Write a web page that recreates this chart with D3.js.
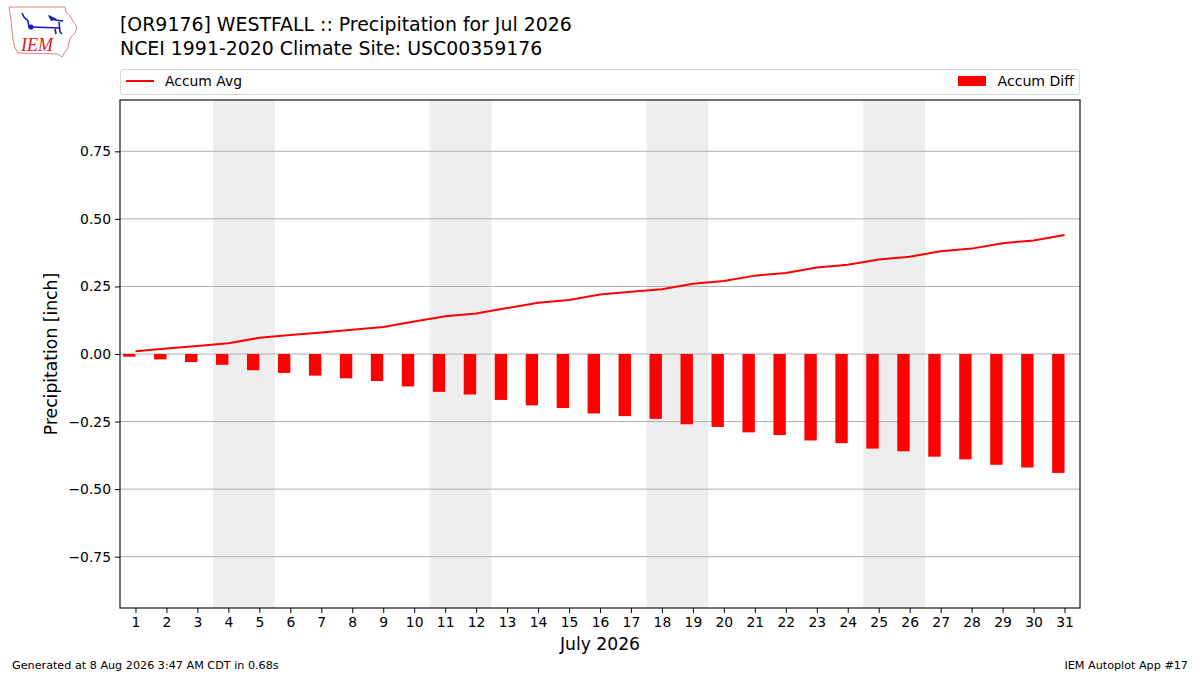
<!DOCTYPE html>
<html>
<head>
<meta charset="utf-8">
<script src="https://cdn.jsdelivr.net/npm/d3@7"></script>
<style>
  body { margin: 0; background: #fff; }
  text { font-family: "DejaVu Sans", sans-serif; fill: #000; }
</style>
</head>
<body>
<div class="chart"></div>
<script>
// days of the month
var days = d3.range(1, 32);

// accumulated climatology average (inch)
var accumAvg = [0.01, 0.02, 0.03, 0.04, 0.06, 0.07, 0.08, 0.09, 0.10, 0.12,
    0.14, 0.15, 0.17, 0.19, 0.20, 0.22, 0.23, 0.24, 0.26, 0.27,
    0.29, 0.30, 0.32, 0.33, 0.35, 0.36, 0.38, 0.39, 0.41, 0.42, 0.44];

// accumulated departure (inch)
var accumDiff = [-0.01, -0.02, -0.03, -0.04, -0.06, -0.07, -0.08, -0.09, -0.10, -0.12,
    -0.14, -0.15, -0.17, -0.19, -0.20, -0.22, -0.23, -0.24, -0.26, -0.27,
    -0.29, -0.30, -0.32, -0.33, -0.35, -0.36, -0.38, -0.39, -0.41, -0.42, -0.44];

// weekend days (Sat/Sun) in July 2026
var weekends = [[4, 5], [11, 12], [18, 19], [25, 26]];

var yTicks = [-0.75, -0.50, -0.25, 0.00, 0.25, 0.50, 0.75];

var titleLines = ["[OR9176] WESTFALL :: Precipitation for Jul 2026",
    "NCEI 1991-2020 Climate Site: USC00359176"];

function chart() {
    var W = 1200, H = 675;
    var margin = {top: 100, right: 120, bottom: 67, left: 120},
        width = W - margin.left - margin.right,
        height = H - margin.top - margin.bottom;

    var svg = d3.select(".chart").append("svg")
        .attr("width", W)
        .attr("height", H);

    // logo
    var logo = svg.append("g");
    logo.append("path")
        .attr("d", "M9,7 L65,7 L66,12 L70,16 L73,21 L77,27 L75,33 L71,37 L69,42 L68,48 L65,52 L62,57 L58,54 L18,53 L15,48 L13,40 L12,30 L11,20 Z")
        .attr("fill", "none")
        .attr("stroke", "#e08080")
        .attr("stroke-width", 1);
    logo.append("path")
        .attr("d", "M22,13 L24,17 L28,21 L29,27 M31,27 L60,28 M49,16 L55,20 L63,21 M59,22 L60,32 M60,32 L62,34 M55,29 L56,34")
        .attr("fill", "none")
        .attr("stroke", "#1a1ab8")
        .attr("stroke-width", 1.6);
    logo.append("circle").attr("cx", 31).attr("cy", 27).attr("r", 2.6).attr("fill", "#1a1ab8");
    logo.append("path").attr("d", "M48,15 L57,19 L51,21 Z").attr("fill", "#1a1ab8");
    logo.append("text")
        .attr("x", 21).attr("y", 51)
        .style("font-family", "'Liberation Serif', serif")
        .style("font-style", "italic")
        .style("font-size", "18px")
        .style("fill", "#d42020")
        .text("IEM");

    // titles
    svg.selectAll(".title")
        .data(titleLines)
        .enter().append("text")
        .attr("class", "title")
        .attr("x", 120)
        .attr("y", function (d, i) { return 30.5 + i * 24; })
        .style("font-size", "18.9px")
        .text(function (d) { return d; });

    var g = svg.append("g")
        .attr("transform", "translate(" + margin.left + "," + margin.top + ")");

    var xScale = d3.scaleLinear().domain([0.5, 31.5]).range([0, width]);
    var yScale = d3.scaleLinear().domain([-0.94, 0.94]).range([height, 0]);

    // weekend shading
    g.selectAll(".weekend")
        .data(weekends)
        .enter().append("rect")
        .attr("x", function (d) { return xScale(d[0] - 0.5); })
        .attr("width", function (d) { return xScale(d[1] + 0.5) - xScale(d[0] - 0.5); })
        .attr("y", 0)
        .attr("height", height)
        .style("fill", "#eeeeee");

    // grid
    g.selectAll(".grid")
        .data(yTicks)
        .enter().append("line")
        .attr("x1", 0).attr("x2", width)
        .attr("y1", function (d) { return yScale(d); })
        .attr("y2", function (d) { return yScale(d); })
        .style("stroke", "#b0b0b0")
        .style("stroke-width", 1);

    // bars
    g.selectAll(".bar")
        .data(days)
        .enter().append("rect")
        .attr("x", function (d) { return xScale(d - 0.4); })
        .attr("width", function (d) { return xScale(d) - xScale(d - 0.4); })
        .attr("y", function (d, i) { return yScale(Math.max(0, accumDiff[i])); })
        .attr("height", function (d, i) { return Math.abs(yScale(accumDiff[i]) - yScale(0)); })
        .style("fill", "#ff0000");

    // line
    var line = d3.line()
        .x(function (d) { return xScale(d); })
        .y(function (d, i) { return yScale(accumAvg[i]); });
    g.append("path")
        .datum(days)
        .attr("d", line)
        .style("fill", "none")
        .style("stroke", "#ff0000")
        .style("stroke-width", 2);

    // frame
    g.append("rect")
        .attr("width", width).attr("height", height)
        .style("fill", "none")
        .style("stroke", "#000")
        .style("stroke-width", 1.1);

    // axes
    var xAxis = d3.axisBottom(xScale).tickValues(days).tickSize(5).tickPadding(4)
        .tickFormat(d3.format("d"));
    var yAxis = d3.axisLeft(yScale).tickValues(yTicks).tickSize(5).tickPadding(4)
        .tickFormat(d3.format(".2f"));

    var gx = g.append("g")
        .attr("transform", "translate(0," + height + ")")
        .call(xAxis);
    var gy = g.append("g").call(yAxis);
    [gx, gy].forEach(function (a) {
        a.select(".domain").remove();
        a.selectAll("text").style("font-size", "13.9px").style("font-family", "'DejaVu Sans', sans-serif");
        a.selectAll("line").style("stroke", "#000");
    });
    gy.selectAll("text").text(function (d) { return d3.format(".2f")(d).replace("-", "\u2212"); });

    // axis labels
    g.append("text")
        .attr("x", width / 2)
        .attr("y", height + 42)
        .style("text-anchor", "middle")
        .style("font-size", "17.2px")
        .text("July 2026");
    g.append("text")
        .attr("transform", "translate(-63," + (height / 2) + ") rotate(-90)")
        .style("text-anchor", "middle")
        .style("font-size", "17.2px")
        .text("Precipitation [inch]");

    // legend
    var legend = svg.append("g");
    legend.append("rect")
        .attr("x", 120.5).attr("y", 69.5)
        .attr("width", 959).attr("height", 25)
        .attr("rx", 3)
        .style("fill", "#fff")
        .style("stroke", "#d6d6d6");
    legend.append("line")
        .attr("x1", 126).attr("x2", 154).attr("y1", 81).attr("y2", 81)
        .style("stroke", "#ff0000").style("stroke-width", 2);
    legend.append("text")
        .attr("x", 165).attr("y", 86)
        .style("font-size", "13.9px")
        .text("Accum Avg");
    legend.append("rect")
        .attr("x", 958).attr("y", 76).attr("width", 28).attr("height", 10)
        .style("fill", "#ff0000");
    legend.append("text")
        .attr("x", 1074).attr("y", 86)
        .style("text-anchor", "end")
        .style("font-size", "14.1px")
        .text("Accum Diff");

    // footer
    svg.append("text")
        .attr("x", 12).attr("y", 669)
        .style("font-size", "11.2px")
        .text("Generated at 8 Aug 2026 3:47 AM CDT in 0.68s");
    svg.append("text")
        .attr("x", 1188).attr("y", 669)
        .style("text-anchor", "end")
        .style("font-size", "11.2px")
        .text("IEM Autoplot App #17");
}

chart();
</script>
</body>
</html>
